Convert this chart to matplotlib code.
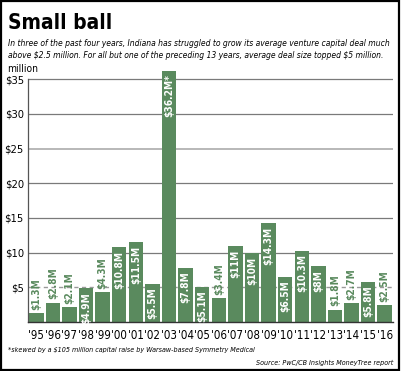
import matplotlib
matplotlib.use("Agg")
import matplotlib.pyplot as plt
from matplotlib.patches import Rectangle

years = ["'95", "'96", "'97", "'98", "'99", "'00", "'01", "'02", "'03", "'04", "'05",
         "'06", "'07", "'08", "'09", "'10", "'11", "'12", "'13", "'14", "'15", "'16"]
values = [1.3, 2.8, 2.1, 4.9, 4.3, 10.8, 11.5, 5.5, 36.2, 7.8, 5.1,
          3.4, 11, 10, 14.3, 6.5, 10.3, 8, 1.8, 2.7, 5.8, 2.5]
labels = ["$1.3M", "$2.8M", "$2.1M", "$4.9M", "$4.3M", "$10.8M", "$11.5M", "$5.5M", "$36.2M*", "$7.8M", "$5.1M",
          "$3.4M", "$11M", "$10M", "$14.3M", "$6.5M", "$10.3M", "$8M", "$1.8M", "$2.7M", "$5.8M", "$2.5M"]
yticks = [5, 10, 15, 20, 25, 30, 35]

GREEN = "#5a8a5e"
FAM = "DejaVu Sans"
ST = "condensed"

fig = plt.figure(figsize=(4.01, 3.71), dpi=100)
fig.patch.set_facecolor("white")

# border
fig.add_artist(Rectangle((0.002, 0.003), 0.994, 0.994, transform=fig.transFigure,
                         fill=False, edgecolor="black", linewidth=1.6))

ax = fig.add_axes([28/401, 1-322/371, (393-28)/401, (322-68.7)/371])
ax.set_xlim(-0.5, len(values) - 0.5)
ax.set_ylim(0, 36.5)

for y in [10, 15, 20, 30, 35]:
    ax.axhline(y, color="#7a7a7a", linewidth=0.9, zorder=0)
ax.axhline(25, color="#b8b8b8", linewidth=1.4, zorder=0)
ax.axhline(5, color="#999999", linewidth=1.0, linestyle=(0, (3, 2.5)), zorder=0)

x = list(range(len(values)))
ax.bar(x, values, width=0.87, color=GREEN, edgecolor="none", zorder=2)

for xi, v, lab in zip(x, values, labels):
    txt = lab.replace("$", "\\$")
    if v >= 4.5:
        ax.text(xi, v - 0.55, txt, rotation=90, ha="center", va="top", color="white",
                fontsize=7.3, fontweight="bold", family=FAM, stretch=ST, zorder=3)
    else:
        ax.text(xi, v + 0.45, txt, rotation=90, ha="center", va="bottom", color=GREEN,
                fontsize=7.3, fontweight="bold", family=FAM, stretch=ST, zorder=3)

for s in ["top", "right"]:
    ax.spines[s].set_visible(False)
ax.spines["left"].set_bounds(0, 35)
ax.spines["left"].set_color("#555555")
ax.spines["left"].set_linewidth(0.9)
ax.spines["bottom"].set_color("#333333")
ax.spines["bottom"].set_linewidth(1.0)

ax.set_yticks(yticks)
ax.set_yticklabels(["\\$%d" % t for t in yticks], family=FAM, stretch=ST, fontsize=8)
ax.tick_params(axis="y", length=0, pad=3)
ax.set_xticks(x)
ax.set_xticklabels(years, family=FAM, stretch=ST, fontsize=8.3)
ax.tick_params(axis="x", length=0, pad=5)

fig.text(7/401, 1-72/371, "million", family=FAM, stretch=ST, fontsize=7.3, va="baseline", ha="left")

fig.text(8/401, 1-29/371, "Small ball", family=FAM, stretch=ST, fontsize=15, fontweight="bold",
         va="baseline", ha="left")
fig.text(8/401, 1-46/371,
         "In three of the past four years, Indiana has struggled to grow its average venture capital deal much",
         family=FAM, stretch=ST, fontsize=6.15, style="italic", va="baseline", ha="left")
fig.text(8/401, 1-58/371,
         "above \\$2.5 million. For all but one of the preceding 13 years, average deal size topped \\$5 million.",
         family=FAM, stretch=ST, fontsize=6.15, style="italic", va="baseline", ha="left")

fig.text(8/401, 1-352/371, "*skewed by a \\$105 million capital raise by Warsaw-based Symmetry Medical",
         family=FAM, stretch=ST, fontsize=5.1, style="italic", va="baseline", ha="left")
fig.text(393/401, 1-365/371, "Source: PwC/CB Insights MoneyTree report",
         family=FAM, stretch=ST, fontsize=5.1, style="italic", va="baseline", ha="right")

fig.savefig("out.png", dpi=100)
